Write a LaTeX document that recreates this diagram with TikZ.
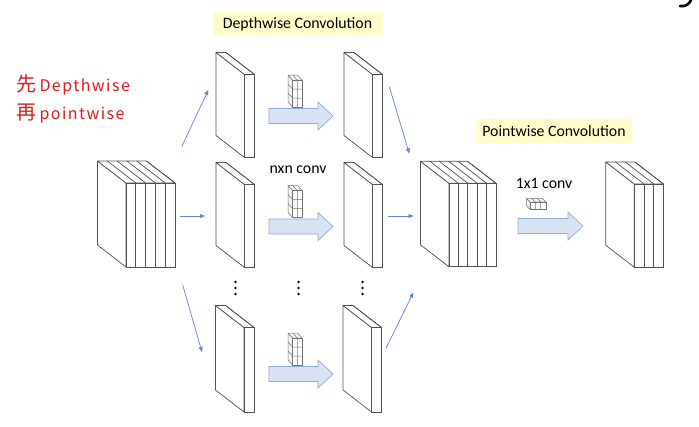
\documentclass[tikz,border=0pt]{standalone}
\usepackage{fontspec}
\setmainfont{Carlito}
\newfontfamily\cjk{Noto Sans CJK SC}
\usetikzlibrary{arrows.meta}
\definecolor{edgegray}{RGB}{80,80,80}
\definecolor{arrowblue}{RGB}{91,134,214}
\definecolor{bigfill}{RGB}{218,227,243}
\definecolor{bigedge}{RGB}{143,170,220}
\definecolor{labelyellow}{RGB}{255,252,204}
\definecolor{hand}{RGB}{222,28,28}
\tikzset{
  blk/.style={draw=edgegray, fill=white, line width=0.7pt, line join=round},
  kern/.style={draw=edgegray!80, fill=gray!8, line width=0.5pt, line join=round},
  bigarrow/.style={draw=bigedge, fill=bigfill, line width=0.7pt, line join=miter},
  thin/.style={draw=arrowblue, line width=0.7pt, -{Triangle[length=5pt,width=4pt]}},
  title/.style={fill=labelyellow, font=\fontsize{15.8}{17}\selectfont, inner sep=0pt, minimum height=24pt},
  conv/.style={font=\fontsize{15.8}{17}\selectfont, inner sep=1pt},
  handtext/.style={text=hand, anchor=west, inner sep=0pt, font=\cjk}
}
% #1 x front-left, #2 y front-top, #3 slice width, #4 slices, #5 height
\newcommand\stackblock[5]{%
  \begin{scope}[shift={(#1,#2)}]
    \path[blk] (0,0) -- (-28.5,-22) -- (-28.5,{#5-22}) -- (0,#5) -- cycle;
    \path[blk] (0,0) -- (-28.5,-22) -- ({#3*#4-28.5},-22) -- ({#3*#4},0) -- cycle;
    \path[blk] (0,0) rectangle ({#3*#4},#5);
    \foreach \i in {1,...,#4}{
      \draw[edgegray, line width=0.7pt] ({#3*\i},0) -- ({#3*\i},#5);
      \draw[edgegray, line width=0.7pt] ({#3*\i},0) -- ({#3*\i-28.5},-22);
    }
  \end{scope}}
% nxn kernel: #1 x front-left, #2 y front-top
\newcommand\kernelicon[2]{%
  \begin{scope}[shift={(#1,#2)}]
    \path[kern] (0,0) -- (-4.5,-5) -- (-4.5,22) -- (0,27) -- cycle;
    \path[kern] (0,0) -- (-4.5,-5) -- (5,-5) -- (9.5,0) -- cycle;
    \path[kern, fill=white] (0,0) rectangle (9.5,27);
    \draw[edgegray!80, line width=0.5pt] (4.75,0) -- (4.75,27) (0,9) -- (9.5,9) (0,18) -- (9.5,18)
      (0,9) -- (-4.5,4) (0,18) -- (-4.5,13) (4.75,0) -- (0.25,-5);
  \end{scope}}
% 1x1 kernel
\newcommand\pointicon[2]{%
  \begin{scope}[shift={(#1,#2)}]
    \path[kern] (0,0) -- (-3.5,-3.5) -- (-3.5,4) -- (0,7.5) -- cycle;
    \path[kern] (0,0) -- (-3.5,-3.5) -- (12.5,-3.5) -- (16,0) -- cycle;
    \path[kern, fill=white] (0,0) rectangle (16,7.5);
    \draw[edgegray!80, line width=0.5pt] (5.33,0) -- (5.33,7.5) (10.67,0) -- (10.67,7.5)
      (5.33,0) -- (1.83,-3.5) (10.67,0) -- (7.17,-3.5);
  \end{scope}}
% big arrow: #1 left x, #2 centre y, #3 length
\newcommand\bigarrowat[3]{%
  \path[bigarrow] (#1,{#2-7.5}) -- ({#1+#3-15},{#2-7.5}) -- ({#1+#3-15},{#2-14}) -- ({#1+#3},#2)
    -- ({#1+#3-15},{#2+14}) -- ({#1+#3-15},{#2+7.5}) -- (#1,{#2+7.5}) -- cycle;}
\begin{document}
\begin{tikzpicture}[x=1pt,y=-1pt]
\path[use as bounding box, fill=white] (0,0) rectangle (699,426);

% handwritten note
\node[handtext] (note1) at (16,85) {\fontsize{20}{21}\selectfont 先\,\fontsize{16}{17}\selectfont\addfontfeature{LetterSpace=9}Depthwise};
\node[handtext] (note2) at (16,114) {\fontsize{20}{21}\selectfont 再\,\fontsize{16}{17}\selectfont\addfontfeature{LetterSpace=9}pointwise};

% labels
\node[title, minimum width=170pt] (dwlabel) at (297.5,24) {Depthwise Convolution};
\node[title, minimum width=156pt] (pwlabel) at (554,131) {Pointwise Convolution};
\node[conv] (nxn) at (298,170) {nxn conv};
\node[conv] (onebyone) at (544,183) {1x1 conv};

% blocks
\stackblock{126}{183}{9.8}{5}{84}
\stackblock{244.5}{74.5}{10}{1}{83}
\stackblock{372.5}{74.5}{10}{1}{83}
\stackblock{244.5}{184.5}{10}{1}{83}
\stackblock{372.5}{184.5}{10}{1}{83}
\stackblock{244}{327.5}{10}{1}{84.5}
\stackblock{371.5}{327.5}{10}{1}{84.5}
\stackblock{449}{183.3}{9.4}{5}{83.5}
\stackblock{634.3}{184}{9.7}{3}{83.3}

% kernels
\kernelicon{292.5}{80}
\kernelicon{292.5}{190.5}
\kernelicon{292.5}{338}
\pointicon{530}{202}

% big arrows
\bigarrowat{269}{116}{64}
\bigarrowat{269}{226.5}{64}
\bigarrowat{269}{374}{64}
\bigarrowat{518}{226}{65}

% dots
\foreach \x in {235.5,298.5,362.5}
  \foreach \y in {282,288,294}
    \fill[black] (\x,\y) circle (1.3);

% thin arrows
\coordinate (s1) at (181.7,146.7); \coordinate (e1) at (208.3,90);
\coordinate (s2) at (180,216);     \coordinate (e2) at (205,216);
\coordinate (s3) at (182.7,285);   \coordinate (e3) at (202,352);
\coordinate (s4) at (389.3,86.7);  \coordinate (e4) at (409.3,153.5);
\coordinate (s5) at (388,216);     \coordinate (e5) at (413.5,216);
\coordinate (s6) at (386,348.3);   \coordinate (e6) at (413.3,292.5);
\foreach \i in {1,...,6} \draw[thin] (s\i) -- (e\i);

% stray mark top right
\draw[black, line width=2.6pt, line cap=round] (680,6) .. controls (686,7) and (689,4) .. (691,0);
\end{tikzpicture}
\end{document}
